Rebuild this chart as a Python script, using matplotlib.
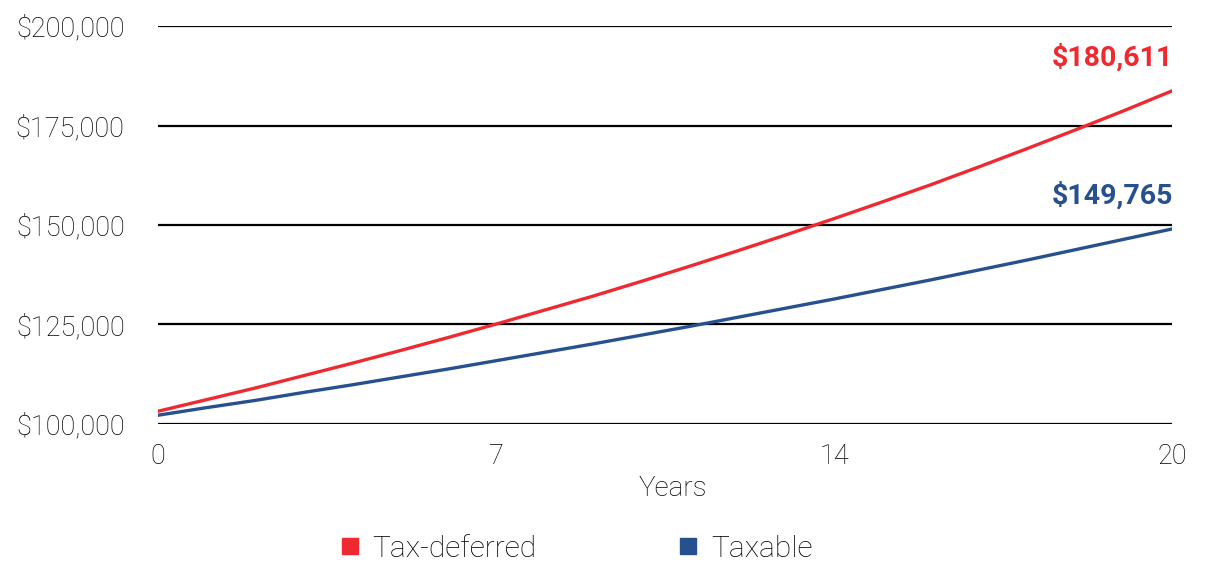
import matplotlib.pyplot as plt
from matplotlib.lines import Line2D
from matplotlib.ticker import FuncFormatter

# values, in thousands of dollars (22 points, last one sits on the "20" tick)
points = list(range(0, 22))
tax_deferred = [103.2, 106.1, 109.0, 112.1, 115.2, 118.4, 121.7, 125.1, 128.6, 132.1, 135.8,
                139.6, 143.5, 147.5, 151.6, 155.8, 160.1, 164.6, 169.2, 173.9, 178.7, 183.7]
taxable = [102.2, 104.1, 105.9, 107.9, 109.8, 111.8, 113.8, 115.9, 118.0, 120.1, 122.3,
           124.5, 126.8, 129.1, 131.4, 133.8, 136.2, 138.7, 141.2, 143.8, 146.4, 149.0]
end_labels = ['$180,611', '$149,765']
series_names = ['Tax-deferred', 'Taxable']
x_tick_pos = [0, 7, 14, 21]
x_tick_labels = ['0', '7', '14', '20']
y_ticks = [100, 125, 150, 175, 200]

red = '#EF2930'
blue = '#27508F'
text_col = '#000000'

plt.rcParams['font.family'] = ['Roboto', 'DejaVu Sans']

fig = plt.figure(figsize=(12.11, 5.63), dpi=100)
ax = fig.add_axes([0.1305, 0.2469, 0.8373, 0.7069])

for yv in y_ticks:
    ax.axhline(yv, color='black', lw=1.6, zorder=1)

ax.plot(points, tax_deferred, color=red, lw=2.4, zorder=3)
ax.plot(points, taxable, color=blue, lw=2.4, zorder=3)

label_font = ['Liberation Sans Narrow', 'Roboto', 'DejaVu Sans']
for vals, lab, col in zip([tax_deferred, taxable], end_labels, [red, blue]):
    ax.annotate(lab, (points[-1], vals[-1]), xytext=(1, 24), textcoords='offset points',
                ha='right', va='center', color=col, fontsize=20.5, fontweight='bold',
                family=label_font)

ax.set_xlim(0, 21)
ax.set_ylim(100, 200)
ax.set_xticks(x_tick_pos)
ax.set_xticklabels(x_tick_labels)
ax.set_yticks(y_ticks)
ax.yaxis.set_major_formatter(FuncFormatter(lambda v, p: '${:,.0f}'.format(v * 1000)))
ax.tick_params(length=0, labelsize=19.5, colors=text_col)
ax.tick_params(axis='y', pad=24)
ax.tick_params(axis='x', pad=14)
for t in ax.get_xticklabels() + ax.get_yticklabels():
    t.set_fontweight('light')
ax.set_xlabel('Years', fontsize=20, fontweight='light', color=text_col)
ax.xaxis.set_label_coords(0.508, -0.128)
for s in ax.spines.values():
    s.set_visible(False)

handles = [Line2D([], [], ls='none', marker='s', markersize=12, color=c) for c in [red, blue]]
leg = fig.legend(handles, series_names, loc='center', bbox_to_anchor=(0.476, 0.025), ncol=2,
                 frameon=False, prop={'size': 21.5, 'weight': 'light'}, handlelength=0.6,
                 handletextpad=0.45, columnspacing=4.8)
for t in leg.get_texts():
    t.set_color(text_col)

fig.savefig('out.png', dpi=100)
